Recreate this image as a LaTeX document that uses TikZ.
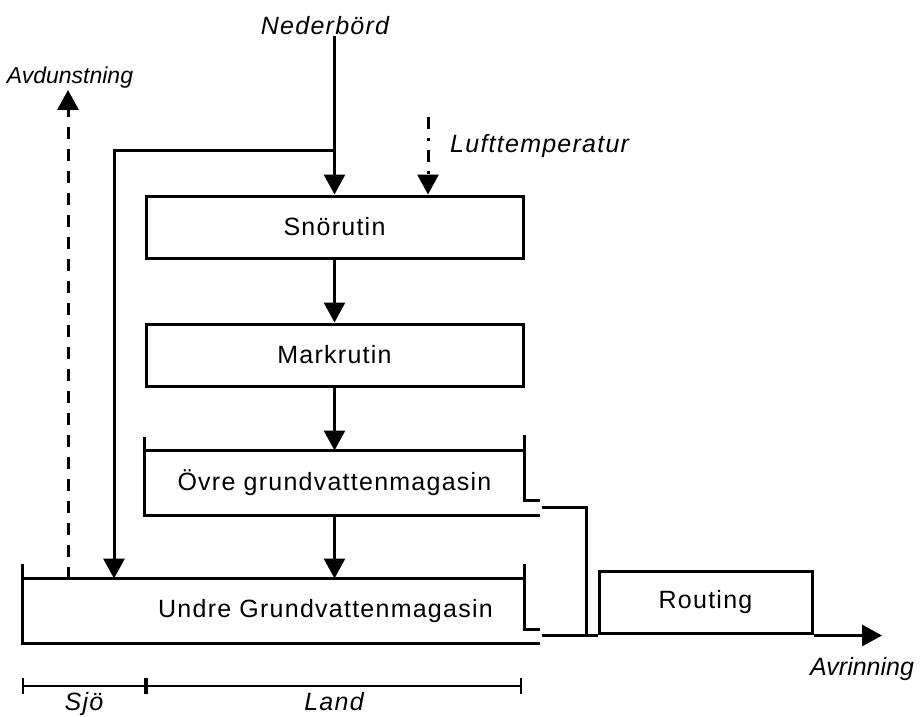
\documentclass[tikz,border=0pt]{standalone}
\usepackage{fontspec}
\setmainfont{Liberation Sans}[LetterSpace=5]
\usetikzlibrary{arrows.meta, positioning}

\begin{document}
\begin{tikzpicture}[
  x=1pt, y=-1pt,
  node distance=63pt,
  line/.style={line width=3pt},
  arrow/.style={line, -{Triangle[length=20pt, width=21pt]}},
  box/.style={draw, line width=3pt, minimum width=377pt, minimum height=62pt,
              inner sep=0pt, font=\fontsize{25}{30}\selectfont},
  tank/.style={box, draw=none},
  tag/.style={font=\fontsize{25}{30}\selectfont\itshape, inner sep=2pt},
  tight/.style={tag, font=\fontsize{#1}{30}\selectfont\itshape\addfontfeatures{LetterSpace=0}},
  ruler/.style={line width=1.6pt, {Bar[width=16pt]}-{Bar[width=16pt]}}
]
\useasboundingbox (0,0) rectangle (922,716);

% model routines
\node[box] (sno) at (334.5,227) {Snörutin};
\node[box, below=of sno] (mark) {Markrutin};
\node[tank, below=of mark] (ovre) {Övre grundvattenmagasin};
\node[tank, below=of ovre, xshift=-9pt] (undre) {Undre Grundvattenmagasin};
\node[box, minimum width=213pt] (rout) at (705.5,602) {Routing};

% inputs and outputs
\node[tag, anchor=base] (ned) at (325,34) {Nederbörd};
\node[tag, anchor=base west] (luft) at (448,152) {Lufttemperatur};
\node[tight=23, anchor=base] (avd) at (70,83) {Avdunstning};
\node[tight=25, anchor=base west] (avr) at (808,675) {Avrinning};

% Sjö / Land scale
\coordinate (sjoL) at (22,686);
\coordinate (landL) at (146,686);
\coordinate (landR) at (522,686);
\draw[ruler] (sjoL) -- node[tag, anchor=base, yshift=-24pt] (sjo) {Sjö} (landL);
\draw[ruler] (landL) -- node[tag, anchor=base, yshift=-24pt] (land) {Land} (landR);

% open boxes for the two groundwater stores
\coordinate (uNW) at (sjoL |- undre.north);
\coordinate (uSW) at (sjoL |- undre.south);
\coordinate (uNE) at (ovre.east |- undre.north);
\coordinate (uSE) at (ovre.east |- undre.south);
\draw[line] ([yshift=14pt]ovre.north west) -- (ovre.south west) -- ([xshift=15pt]ovre.south east);
\draw[line] (ovre.north west) -- (ovre.north east);
\draw[line] ([yshift=16pt]ovre.north east) -- ([yshift=15pt]ovre.south east) -- ++(15,0);
\draw[line] ([yshift=15pt]uNW) -- (uSW) -- ([xshift=15pt]uSE);
\draw[line] (uNW) -- (uNE);
\draw[line] ([yshift=15pt]uNE) -- ([yshift=14pt]uSE) -- ++(15,0);

% flows
\coordinate (split) at (sno.north |- 0,150);
\coordinate (sjoIn) at (114,0 |- undre.north);
\draw[arrow] (ned.south -| sno.north) -- (sno.north);
\draw[arrow] (split) -| (sjoIn);
\draw[arrow] (sno) -- (mark);
\draw[arrow] (mark) -- (ovre);
\draw[arrow] (ovre) -- (ovre.south |- undre.north);

\coordinate (luftTop) at (428,117);
\draw[arrow, dash pattern=on 12pt off 9pt on 3pt off 9pt] (luftTop) -- (luftTop |- sno.north);
\coordinate (avdFoot) at (68,0 |- undre.north);
\draw[arrow, dash pattern=on 12pt off 10pt] (avdFoot) -- (avdFoot |- avd.south);

\coordinate (ovreOut) at ([xshift=17pt,yshift=8pt]ovre.south east);
\coordinate (undreOut) at ([xshift=17pt,yshift=8pt]uSE);
\coordinate (avrTip) at (882,0 |- undreOut);
\draw[line] (ovreOut) -| ([xshift=45pt]undreOut);
\draw[line] (undreOut) -- (undreOut -| rout.west);
\draw[arrow] (undreOut -| rout.east) -- (avrTip);

\end{tikzpicture}
\end{document}
